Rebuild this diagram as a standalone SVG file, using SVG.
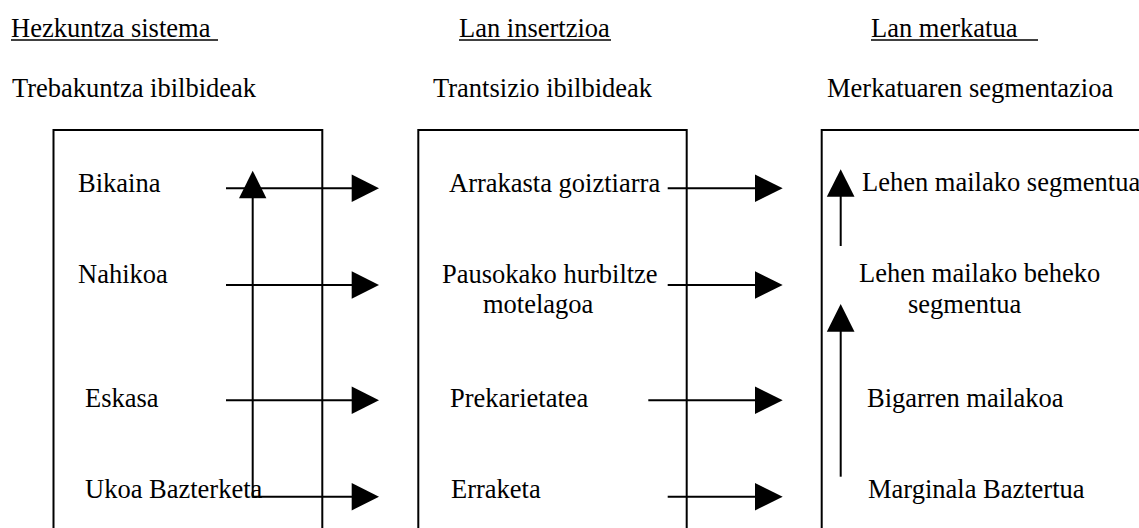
<svg xmlns="http://www.w3.org/2000/svg" width="1139" height="528" viewBox="0 0 1139 528">
<defs>
<style>
text{font-family:"Liberation Serif","Times New Roman",serif;font-size:26.5px;fill:#000}
.box{fill:none;stroke:#000;stroke-width:2}
.ln{stroke:#000;stroke-width:2;fill:none}
.hd{fill:#000}
.ul{stroke:#000;stroke-width:1.5}
</style>
</defs>
<rect width="1139" height="528" fill="#fff"/>
<g id="headers">
<text x="11" y="37">Hezkuntza sistema</text>
<line class="ul" x1="11" y1="40" x2="218" y2="40"/>
<text x="12" y="97">Trebakuntza ibilbideak</text>
<text x="459" y="37">Lan insertzioa</text>
<line class="ul" x1="459" y1="40" x2="611" y2="40"/>
<text x="433" y="97">Trantsizio ibilbideak</text>
<text x="871" y="37">Lan merkatua</text>
<line class="ul" x1="871" y1="40" x2="1038" y2="40"/>
<text x="827" y="97">Merkatuaren segmentazioa</text>
</g>
<g id="box1">
<path class="box" d="M53.5 540 V130 H322.3 V540"/>
<text x="78" y="192">Bikaina</text>
<text x="78" y="283">Nahikoa</text>
<text x="85" y="407">Eskasa</text>
<text x="85" y="498">Ukoa Bazterketa</text>
</g>
<g id="box2">
<path class="box" d="M418.3 540 V130 H686.7 V540"/>
<text x="449" y="192">Arrakasta goiztiarra</text>
<text x="442" y="283">Pausokako hurbiltze</text>
<text x="483" y="313">motelagoa</text>
<text x="450" y="407">Prekarietatea</text>
<text x="451" y="498">Erraketa</text>
</g>
<g id="box3">
<path class="box" d="M821.7 540 V130 H1145"/>
<text x="862" y="191">Lehen mailako segmentua</text>
<text x="859" y="282">Lehen mailako beheko</text>
<text x="908" y="313">segmentua</text>
<text x="867" y="407">Bigarren mailakoa</text>
<text x="868" y="498">Marginala Baztertua</text>
</g>
<g id="connectors">
<line class="ln" x1="226" y1="188.3" x2="353" y2="188.3"/>
<polygon class="hd" points="351.7,174.6 379,188.3 351.7,202"/>
<line class="ln" x1="226" y1="285" x2="353" y2="285"/>
<polygon class="hd" points="351.7,271.3 379,285 351.7,298.7"/>
<line class="ln" x1="226" y1="400.3" x2="353" y2="400.3"/>
<polygon class="hd" points="351.7,386.6 379,400.3 351.7,414"/>
<line class="ln" x1="252.7" y1="496.7" x2="353" y2="496.7"/>
<polygon class="hd" points="351.7,483 379,496.7 351.7,510.4"/>
<line class="ln" x1="252.7" y1="497.7" x2="252.7" y2="197"/>
<polygon class="hd" points="239,198.3 252.7,170.7 266.4,198.3"/>
<line class="ln" x1="667.7" y1="188.3" x2="756" y2="188.3"/>
<polygon class="hd" points="755,174.6 782.7,188.3 755,202"/>
<line class="ln" x1="667.7" y1="285" x2="756" y2="285"/>
<polygon class="hd" points="755,271.3 782.7,285 755,298.7"/>
<line class="ln" x1="648.3" y1="400.3" x2="756" y2="400.3"/>
<polygon class="hd" points="755,386.6 782.7,400.3 755,414"/>
<line class="ln" x1="667.7" y1="496.7" x2="756" y2="496.7"/>
<polygon class="hd" points="755,483 782.7,496.7 755,510.4"/>
<line class="ln" x1="840.7" y1="246" x2="840.7" y2="195"/>
<polygon class="hd" points="826.8,196.7 840.7,169.3 854.5,196.7"/>
<line class="ln" x1="840.7" y1="476.7" x2="840.7" y2="330"/>
<polygon class="hd" points="826.8,331.7 840.7,304 854.5,331.7"/>
</g>
</svg>
